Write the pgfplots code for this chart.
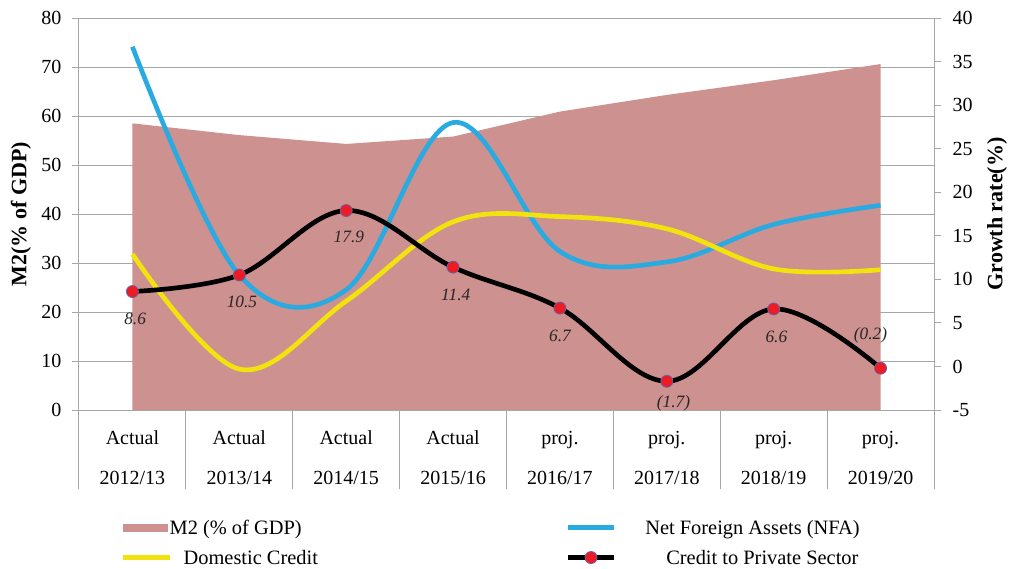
\documentclass[border=0pt]{standalone}
\usepackage{fontspec}
\setmainfont{Liberation Serif}
\usepackage{pgfplots}
\pgfplotsset{compat=1.18}
\usepackage{pgfplotstable}
\definecolor{m2c}{HTML}{CD918F}
\definecolor{nfac}{HTML}{29ABE2}
\definecolor{dcc}{HTML}{F2E30F}
\definecolor{redm}{HTML}{ED1C24}
\definecolor{edgem}{HTML}{6A5FA8}
\definecolor{gridc}{HTML}{A6A6A6}

\pgfplotstableread{
x m2
0 58.5
1 56.1
2 54.3
3 55.8
4 60.9
5 64.3
6 67.3
7 70.6
}\mtwo

\pgfplotstableread{
x nfa
0 36.7
1 10.5
2 8.8
3 28.0
4 13.2
5 12.0
6 16.3
7 18.5
}\nfa

\pgfplotstableread{
x dc
0 12.9
1 -0.3
2 7.5
3 16.6
4 17.2
5 15.8
6 11.2
7 11.1
}\dcred

\pgfplotstableread{
x y lbl dx dy
0 8.6 8.6 2 -20.5
1 10.5 10.5 2 -20
2 17.9 17.9 2 -19.5
3 11.4 11.4 2 -21
4 6.7 6.7 0 -21
5 -1.7 (1.7) 5 -16.5
6 6.6 6.6 2 -21
7 -0.2 (0.2) -7.5 24.5
}\cps

\begin{document}
\begin{tikzpicture}
\useasboundingbox (-59.25pt,-118.5pt) rectangle (698.25pt,307.5pt);
\begin{axis}[
  at={(0,0)}, anchor=south west, scale only axis,
  width=641.25pt, height=294pt,
  xmin=-0.5, xmax=7.5, ymin=0, ymax=80,
  axis line style={draw=gridc, line width=0.75pt},
  ytick={0,10,...,80},
  ymajorgrids, major grid style={draw=gridc, line width=0.75pt},
  ytick pos=left, xtick pos=bottom,
  tick align=outside, major tick length=5.25pt,
  tick style={draw=gridc, line width=0.75pt},
  yticklabel style={font=\fontsize{15}{18}\selectfont, xshift=-4.5pt},
  /pgf/number format/assume math mode=true,
  xtick={0,...,7},
  xtick style={draw=none},
  xticklabels={{Actual\\2012/13},{Actual\\2013/14},{Actual\\2014/15},{Actual\\2015/16},{proj.\\2016/17},{proj.\\2017/18},{proj.\\2018/19},{proj.\\2019/20}},
  xticklabel style={font=\fontsize{15}{30}\selectfont, align=center, anchor=base, yshift=-50.4pt},
  extra x ticks={-0.5,0.5,...,7.5},
  extra x tick labels={},
  extra x tick style={major tick length=59.25pt, tick align=outside, xtick style={draw=gridc, line width=0.75pt}},
  ylabel={\bfseries M2(\% of GDP)},
  ylabel style={font=\fontsize{16.5}{18}\selectfont, at={([xshift=-43.5pt]axis description cs:0,0.5)}, anchor=center},
]
\addplot[fill=m2c, draw=none] table[x=x,y=m2]{\mtwo} \closedcycle;
\end{axis}
\begin{axis}[
  at={(0,0)}, anchor=south west, scale only axis,
  width=641.25pt, height=294pt,
  xmin=-0.5, xmax=7.5, ymin=-5, ymax=40,
  axis x line=none,
  axis y line*=right,
  axis line style={draw=gridc, line width=0.75pt},
  ytick={-5,0,...,40},
  yticklabels={-5,0,5,10,15,20,25,30,35,40},
  tick align=outside, major tick length=5.25pt,
  tick style={draw=gridc, line width=0.75pt},
  yticklabel style={font=\fontsize{15}{18}\selectfont, xshift=5.25pt},
  ylabel={\bfseries Growth rate(\%)},
  ylabel style={font=\fontsize{16.5}{18}\selectfont, at={([xshift=47.25pt]axis description cs:1,0.5)}, anchor=center},
  legend columns=2,
  legend cell align=left,
  legend image code/.code={\draw[mark repeat=2,mark phase=2,#1] plot coordinates {(0pt,0pt) (17.25pt,0pt) (34.5pt,0pt)};},
  legend style={at={(axis description cs:0,0)}, anchor=north west, xshift=31.5pt, yshift=-83.2pt,
    draw=none, fill=none, inner sep=0pt, outer sep=0pt, column sep=0pt, row sep=12.6pt,
    nodes={inner sep=0pt, text height=9.9pt, text depth=0pt, font=\fontsize{15.3}{18}\selectfont}},
]
\addlegendimage{legend image code/.code={\fill[m2c] (0pt,-2.5pt) rectangle (33pt,2.5pt);}}
\addlegendentry{\makebox[295.5pt][l]{\hspace{-1.5pt}M2 (\% of GDP)}}
\addplot[nfac, line width=3.5pt, smooth, tension=0.6] table[x=x,y=nfa]{\nfa};
\addlegendentry{\hspace{21.75pt}Net Foreign Assets (NFA)}
\addplot[dcc, line width=3.5pt, smooth, tension=0.6] table[x=x,y=dc]{\dcred};
\addlegendentry{\makebox[295.5pt][l]{\hspace{9pt}Domestic Credit}}
\addplot[black, line width=3.5pt, smooth, tension=0.6,
  mark=*, mark size=4.5pt, mark options={fill=redm, draw=edgem, line width=0.6pt},
  nodes near coords, point meta=explicit symbolic,
  visualization depends on={\thisrow{dx} \as \ldx},
  visualization depends on={\thisrow{dy} \as \ldy},
  every node near coord/.style={anchor=center, xshift=\ldx pt, yshift=\ldy pt, font=\itshape\fontsize{13}{15}\selectfont, text=black!85}
] table[x=x,y=y,meta=lbl]{\cps};
\addlegendentry{\hspace{37.5pt}Credit to Private Sector}
\end{axis}
\end{tikzpicture}
\end{document}
